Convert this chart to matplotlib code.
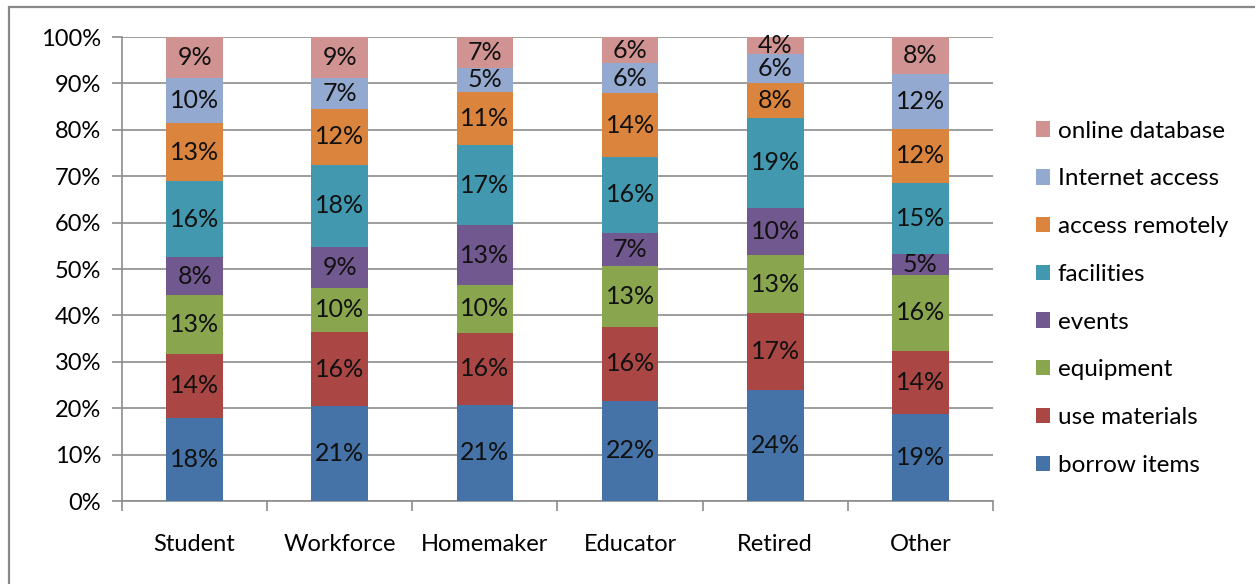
import numpy as np
import matplotlib.pyplot as plt
from matplotlib.patches import Rectangle, Patch

plt.rcParams['font.family'] = ['Lato', 'DejaVu Sans']

groups = ["Student", "Workforce", "Homemaker", "Educator", "Retired", "Other"]
series = ["borrow items", "use materials", "equipment", "events",
          "facilities", "access remotely", "Internet access", "online database"]
colors = ["#4572A7", "#AA4643", "#89A54E", "#71588F",
          "#4198AF", "#DB843D", "#93A9CF", "#D19392"]

# percent per group (bottom to top)
borrow_items = [18.0, 20.6, 20.7, 21.6, 23.8, 18.9]
use_materials = [13.8, 15.8, 15.6, 16.0, 16.6, 13.6]
equipment = [12.6, 9.7, 10.2, 13.0, 12.6, 16.3]
events = [8.3, 8.8, 12.9, 7.2, 10.1, 4.6]
facilities = [16.3, 17.7, 17.4, 16.3, 19.4, 15.4]
access_remotely = [12.7, 12.1, 11.4, 13.8, 7.5, 11.6]
internet_access = [9.7, 6.7, 5.1, 6.4, 6.3, 12.0]
online_database = [8.8, 8.8, 6.7, 5.7, 3.6, 7.9]

data = np.array([borrow_items, use_materials, equipment, events,
                 facilities, access_remotely, internet_access, online_database])
pct = data / data.sum(axis=0) * 100

fs = 17

fig = plt.figure(figsize=(12.55, 5.84), dpi=100)
fig.patches.append(Rectangle((9 / 1255, -0.1), 1.2, (584 - 7) / 584 + 0.1,
                             transform=fig.transFigure, fill=False,
                             edgecolor="#888888", linewidth=1.6))
ax = fig.add_axes([122 / 1255, 83 / 584, 871 / 1255, 464 / 584])

x = np.arange(len(groups))
bottom = np.zeros(len(groups))
for i, name in enumerate(series):
    bars = ax.bar(x, pct[i], 0.39, bottom=bottom, color=colors[i], label=name, zorder=3)
    ax.bar_label(bars, labels=[f"{round(v)}%" for v in data[i]], label_type="center",
                 fontsize=18, color="#111111")
    bottom += pct[i]

ax.set_xlim(-0.5, len(groups) - 0.5)
ax.set_ylim(0, 100)
ax.set_yticks(np.arange(0, 101, 10))
ax.set_yticklabels([f"{v}%" for v in range(0, 101, 10)])
ax.yaxis.grid(True, color="#8c8c8c", linewidth=1.2, zorder=0)
ax.set_xticks(x)
ax.set_xticklabels(groups)
ax.set_xticks(np.arange(-0.5, len(groups), 1), minor=True)
ax.tick_params(axis="x", which="major", length=0, pad=24, labelsize=fs)
ax.tick_params(axis="x", which="minor", length=7, color="#8c8c8c", width=1.2)
ax.tick_params(axis="y", length=7, color="#8c8c8c", width=1.2, pad=8, labelsize=fs)
for side in ["top", "right"]:
    ax.spines[side].set_visible(False)
for side in ["left", "bottom"]:
    ax.spines[side].set_color("#8c8c8c")
    ax.spines[side].set_linewidth(1.2)

handles = [Patch(facecolor=colors[i], label=series[i]) for i in range(len(series))][::-1]
ax.legend(handles=handles, loc="center left", bbox_to_anchor=(1.049, 0.437),
          frameon=False, fontsize=17.5, handlelength=0.6, handleheight=0.6,
          handletextpad=0.3, labelspacing=1.1, borderpad=0, borderaxespad=0)

fig.savefig("out.png", dpi=100)
